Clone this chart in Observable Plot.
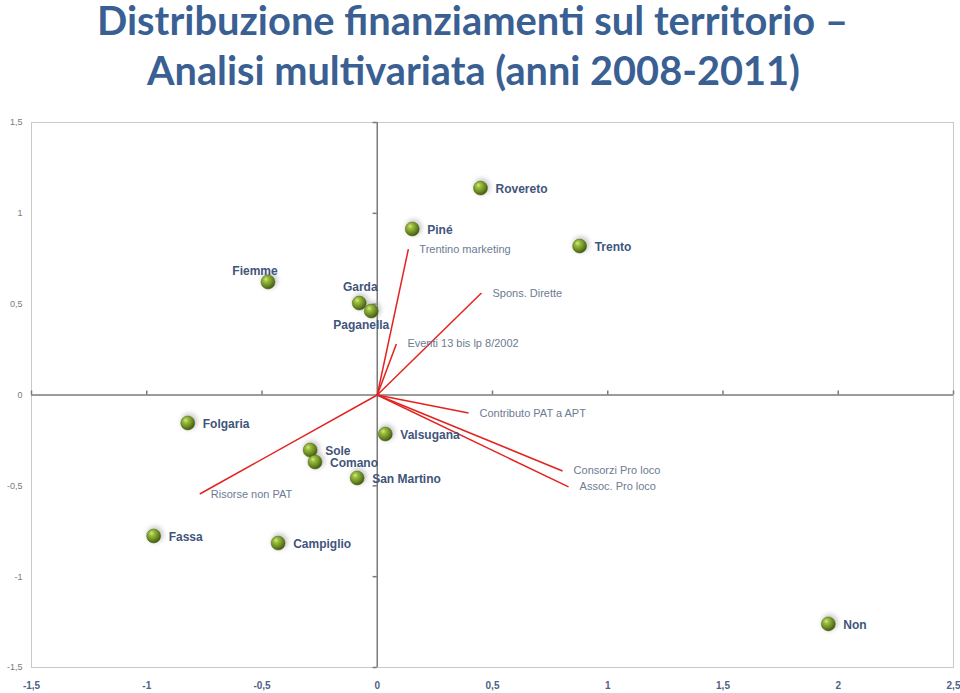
<!DOCTYPE html>
<html>
<head>
<meta charset="utf-8">
<script src="https://cdn.jsdelivr.net/npm/d3@7"></script>
<script src="https://cdn.jsdelivr.net/npm/@observablehq/plot@0.6"></script>
<style>
  html, body { margin: 0; padding: 0; background: #fff; }
  #title { display: block; }
  #chart svg { display: block; }
</style>
</head>
<body>
<svg id="title" width="960" height="100">
  <text x="472.5" y="35" text-anchor="middle" textLength="751" lengthAdjust="spacingAndGlyphs"
    font-family="Lato,'Open Sans',sans-serif" font-weight="bold" font-size="40" fill="#3A5F93">Distribuzione finanziamenti sul territorio –</text>
  <text x="473.5" y="85" text-anchor="middle" textLength="653" lengthAdjust="spacingAndGlyphs"
    font-family="Lato,'Open Sans',sans-serif" font-weight="bold" font-size="40" fill="#3A5F93">Analisi multivariata (anni 2008-2011)</text>
</svg>
<div id="chart"></div>
<script>
// Territories (observations)
const territories = ["Rovereto","Piné","Trento","Fiemme","Garda","Paganella","Folgaria","Valsugana","Sole","Comano","San Martino","Fassa","Campiglio","Non"];
const terrX = [0.448, 0.152, 0.878, -0.474, -0.078, -0.026, -0.822, 0.035, -0.291, -0.270, -0.087, -0.970, -0.430, 1.957];
const terrY = [1.139, 0.914, 0.820, 0.622, 0.506, 0.462, -0.154, -0.215, -0.303, -0.369, -0.457, -0.776, -0.815, -1.260];

// Variables (vectors)
const variables = ["Trentino marketing","Spons. Dirette","Eventi 13 bis lp 8/2002","Contributo PAT a APT","Consorzi Pro loco","Assoc. Pro loco","Risorse non PAT"];
const varX = [0.135, 0.452, 0.083, 0.396, 0.804, 0.830, -0.770];
const varY = [0.803, 0.561, 0.281, -0.099, -0.418, -0.506, -0.545];

// Axis ticks
const xTicks = [-1.5, -1, -0.5, 0, 0.5, 1, 1.5, 2, 2.5];
const yTicks = [-1.5, -1, -0.5, 0, 0.5, 1, 1.5];

const pts = territories.map((name, i) => ({name, x: terrX[i], y: terrY[i]}));
const vecs = variables.map((name, i) => ({name, x: varX[i], y: varY[i]}));

const fmt = d => String(d).replace(".", ",");
const above = ["Fiemme", "Garda"];
const below = ["Paganella"];
const right = pts.filter(d => !above.includes(d.name) && !below.includes(d.name));

const ptFont = "'Liberation Sans', Arial, sans-serif";
const ptColor = "#3f557b";
const vecColor = "#6d7b93";

const chart = Plot.plot({
  width: 960,
  height: 593,
  marginTop: 22,
  marginBottom: 26,
  marginLeft: 31,
  marginRight: 7,
  x: {domain: [-1.5, 2.5], axis: null},
  y: {domain: [-1.5, 1.5], axis: null},
  style: {background: "#fff", overflow: "visible"},
  marks: [
    Plot.frame({stroke: "#c9c9c9", strokeWidth: 1}),
    // y tick labels
    Plot.text(yTicks, {x: -1.5, y: d => d, text: fmt, textAnchor: "end", dx: -9, fontSize: 9, fill: "#7a7a7a", fontFamily: ptFont}),
    // x tick labels
    Plot.text(xTicks, {x: d => d, y: -1.5, text: fmt, dy: 18, fontSize: 10, fontWeight: "bold", fill: "#4f6186", fontFamily: ptFont}),
    // zero axes
    Plot.ruleY([0], {stroke: "#7a7a7a", strokeWidth: 1.5}),
    Plot.ruleX([0], {stroke: "#7a7a7a", strokeWidth: 1.5}),
    // small tick marks on the zero axes
    Plot.ruleX(xTicks.filter(d => d !== 0), {x: d => d, y1: 0, y2: 0.022, stroke: "#7a7a7a", strokeWidth: 1.5}),
    Plot.ruleY(yTicks.filter(d => d !== 0), {y: d => d, x1: -0.018, x2: 0, stroke: "#7a7a7a", strokeWidth: 1.5}),
    // vectors
    Plot.link(vecs, {x1: 0, y1: 0, x2: "x", y2: "y", stroke: "#e3231f", strokeWidth: 1.5}),
    Plot.text(vecs, {x: "x", y: "y", text: "name", textAnchor: "start", dx: 11, fontSize: 11, fill: vecColor, fontFamily: ptFont}),
    // dot shadows
    Plot.dot(pts, {x: "x", y: "y", r: 8.5, fill: "#9a9a9a", fillOpacity: 0.45, dx: 1.5, dy: -1.5, imageFilter: "blur(2px)"}),
    // dots
    Plot.dot(pts, {x: "x", y: "y", r: 7, fill: "url(#ball)", stroke: "#4d6418", strokeWidth: 0.5}),
    // point labels
    Plot.text(right, {x: "x", y: "y", text: "name", textAnchor: "start", dx: 15, dy: 1, fontSize: 12, fontWeight: "bold", fill: ptColor, fontFamily: ptFont}),
    Plot.text(pts.filter(d => d.name === "Fiemme"), {x: "x", y: "y", text: "name", dx: -13, dy: -11, fontSize: 12, fontWeight: "bold", fill: ptColor, fontFamily: ptFont}),
    Plot.text(pts.filter(d => d.name === "Garda"), {x: "x", y: "y", text: "name", dx: 1, dy: -16, fontSize: 12, fontWeight: "bold", fill: ptColor, fontFamily: ptFont}),
    Plot.text(pts.filter(d => d.name === "Paganella"), {x: "x", y: "y", text: "name", dx: -10, dy: 14, fontSize: 12, fontWeight: "bold", fill: ptColor, fontFamily: ptFont})
  ]
});

// gradient for the sphere-like dots
const ns = "http://www.w3.org/2000/svg";
const defs = document.createElementNS(ns, "defs");
defs.innerHTML = `
  <radialGradient id="ball" cx="0.38" cy="0.35" r="0.7" fx="0.35" fy="0.3">
    <stop offset="0%" stop-color="#d6ea8a"/>
    <stop offset="25%" stop-color="#9bbd3c"/>
    <stop offset="65%" stop-color="#6a8a22"/>
    <stop offset="100%" stop-color="#3b5010"/>
  </radialGradient>`;
chart.insertBefore(defs, chart.firstChild);
document.getElementById("chart").appendChild(chart);
</script>
</body>
</html>
